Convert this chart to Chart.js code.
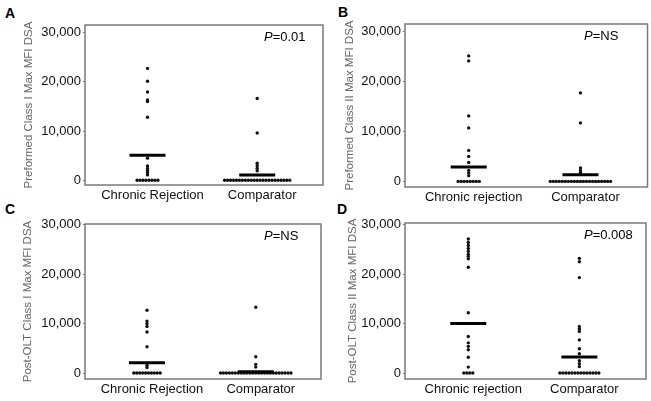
<!DOCTYPE html>
<html>
<head>
<meta charset="utf-8">
<script src="https://cdn.jsdelivr.net/npm/chart.js@4.4.1/dist/chart.umd.min.js"></script>
<style>
  body { margin: 0; background: #fff; width: 651px; height: 401px; position: relative; overflow: hidden; }
  canvas { position: absolute; }
  .tag { position: absolute; font: bold 14px 'Liberation Sans', Arial, sans-serif; color: #000; line-height: 14px; }
</style>
</head>
<body>
<div class="tag" style="left:5px;top:6px">A</div>
<div class="tag" style="left:338px;top:5px">B</div>
<div class="tag" style="left:5px;top:202px">C</div>
<div class="tag" style="left:337px;top:202px">D</div>
<canvas id="chartA" width="325" height="205" style="left:0;top:0"></canvas>
<canvas id="chartB" width="326" height="205" style="left:325px;top:0"></canvas>
<canvas id="chartC" width="325" height="201" style="left:0;top:200px"></canvas>
<canvas id="chartD" width="326" height="201" style="left:325px;top:200px"></canvas>
<script>
// categories / ticks
const categoriesA = ['Chronic Rejection', 'Comparator'];
const categoriesB = ['Chronic rejection', 'Comparator'];
const yTicks = [0, 10000, 20000, 30000];

// A - preformed class I
const preI_chronic = [22700, 20100, 17900, 16300, 16000, 12800, 4500, 2900, 2400, 1950, 1550, 1100,
    0, 0, 0, 0, 0, 0, 0, 0];
const preI_comparator = [16600, 9600, 3450, 2950, 2450, 1950,
    0, 0, 0, 0, 0, 0, 0, 0, 0, 0, 0, 0, 0, 0, 0, 0, 0, 0, 0, 0, 0, 0, 0];
const preI_means = [5100, 1100];

// B - preformed class II
const preII_chronic = [25100, 24100, 13100, 10700, 6200, 5000, 3800, 2200, 1700, 1150,
    0, 0, 0, 0, 0, 0, 0, 0];
const preII_comparator = [17700, 11700, 2700, 2200, 1800,
    0, 0, 0, 0, 0, 0, 0, 0, 0, 0, 0, 0, 0, 0, 0, 0, 0, 0, 0, 0, 0];
const preII_means = [2900, 1350];

// C - post-OLT class I
const postI_chronic = [12700, 10500, 10000, 9400, 8300, 5300, 1550, 1100,
    0, 0, 0, 0, 0, 0, 0, 0, 0, 0];
const postI_comparator = [13300, 3300, 1750, 1200,
    0, 0, 0, 0, 0, 0, 0, 0, 0, 0, 0, 0, 0, 0, 0, 0, 0, 0, 0, 0, 0, 0, 0, 0, 0];
const postI_means = [2100, 250];

// D - post-OLT class II
const postII_chronic = [27100, 26400, 25800, 25200, 24600, 24000, 23600, 23100, 21400, 12200,
    7400, 6100, 5400, 4700, 3200, 1200, 0, 0, 0, 0];
const postII_comparator = [23200, 22500, 19300, 9400, 8900, 8400, 6700, 4900, 3900, 2500, 1900, 1300,
    0, 0, 0, 0, 0, 0, 0, 0, 0, 0, 0, 0, 0, 0];
const postII_means = [10000, 3250];

Chart.defaults.font.family = "'Liberation Sans', Arial, sans-serif";
Chart.defaults.color = '#111';

const dotGap = 0.027;

// tied values are laid side by side around the category centre
function spread(values, xc) {
    const counts = {};
    values.forEach(v => { counts[v] = (counts[v] || 0) + 1; });
    const seen = {};
    return values.map(v => {
        const i = seen[v] = (seen[v] === undefined ? 0 : seen[v] + 1);
        return { x: xc + (i - (counts[v] - 1) / 2) * dotGap, y: v };
    });
}

const boxPlugin = {
    id: 'boxAndP',
    afterDraw(chart) {
        const { ctx, chartArea: a } = chart;
        const o = chart.options.plugins.boxAndP;
        ctx.save();
        ctx.strokeStyle = '#7a7a7a';
        ctx.lineWidth = 1.5;
        ctx.strokeRect(a.left, a.top, a.right - a.left, a.bottom - a.top);
        ctx.fillStyle = '#000';
        ctx.textBaseline = 'middle';
        const x = a.left + 179, y = a.top + 12;
        ctx.font = "italic 13px 'Liberation Sans', Arial, sans-serif";
        ctx.fillText('P', x, y);
        const w = ctx.measureText('P').width;
        ctx.font = "13px 'Liberation Sans', Arial, sans-serif";
        ctx.fillText('=' + o.p, x + w, y);
        ctx.restore();
    }
};

function makePanel(id, cats, chronic, comparator, means, yTitle, p, box) {
    const canvas = document.getElementById(id);
    const W = canvas.width, H = canvas.height;
    return new Chart(canvas, {
        type: 'scatter',
        data: {
            datasets: [
                {
                    label: 'mean',
                    data: [{ x: 1, y: means[0] }, { x: 2, y: means[1] }],
                    pointStyle: 'line',
                    radius: 18,
                    borderWidth: 3,
                    borderColor: '#000'
                },
                {
                    label: cats[0],
                    data: spread(chronic, 1),
                    radius: 1.7,
                    borderWidth: 0,
                    backgroundColor: '#111'
                },
                {
                    label: cats[1],
                    data: spread(comparator, 2),
                    radius: 1.7,
                    borderWidth: 0,
                    backgroundColor: '#111'
                }
            ]
        },
        options: {
            responsive: false,
            animation: false,
            devicePixelRatio: 1,
            layout: {
                autoPadding: false,
                padding: { left: 0, top: box.top, right: W - box.right, bottom: 0 }
            },
            scales: {
                x: {
                    type: 'linear',
                    min: 0.43,
                    max: 2.6,
                    afterFit: s => {
                        s.height = H - box.bottom;
                        s.paddingLeft = 0;
                        s.paddingRight = 0;
                    },
                    afterBuildTicks: s => { s.ticks = [{ value: 1 }, { value: 2 }]; },
                    grid: { display: false, drawTicks: false },
                    border: { display: false },
                    ticks: {
                        padding: 3,
                        labelOffset: 5,
                        maxRotation: 0,
                        font: { size: 13 },
                        color: '#111',
                        callback: v => cats[v - 1]
                    }
                },
                y: {
                    min: box.min,
                    max: box.max,
                    afterFit: s => {
                        s.width = box.left;
                        s.paddingTop = 0;
                        s.paddingBottom = 0;
                    },
                    afterBuildTicks: s => { s.ticks = yTicks.map(v => ({ value: v })); },
                    grid: { drawOnChartArea: false, drawTicks: true, tickLength: 2, color: '#777' },
                    border: { display: false },
                    ticks: {
                        padding: 2,
                        font: { size: 13 },
                        color: '#111',
                        callback: v => v.toLocaleString('en-US')
                    },
                    title: {
                        display: true,
                        text: yTitle,
                        color: '#666',
                        font: { size: 11.5 },
                        padding: { top: box.titleX - 6.9, bottom: 0 }
                    }
                }
            },
            plugins: {
                legend: { display: false },
                tooltip: { enabled: false },
                boxAndP: { p: p }
            }
        },
        plugins: [boxPlugin]
    });
}

makePanel('chartA', categoriesA, preI_chronic, preI_comparator, preI_means,
    'Preformed Class I Max MFI DSA', '0.01',
    { left: 85, top: 25, right: 323, bottom: 185, min: -950, max: 31500, titleX: 29 });
makePanel('chartB', categoriesB, preII_chronic, preII_comparator, preII_means,
    'Preformed Class II Max MFI DSA', 'NS',
    { left: 80, top: 24, right: 322.5, bottom: 187, min: -1120, max: 31480, titleX: 25 });
makePanel('chartC', categoriesA, postI_chronic, postI_comparator, postI_means,
    'Post-OLT Class I Max MFI DSA', 'NS',
    { left: 85, top: 24, right: 321, bottom: 179, min: -1210, max: 30140, titleX: 28 });
makePanel('chartD', categoriesB, postII_chronic, postII_comparator, postII_means,
    'Post-OLT Class II Max MFI DSA', '0.008',
    { left: 80, top: 23, right: 321, bottom: 179, min: -1210, max: 30350, titleX: 28 });
</script>
</body>
</html>
